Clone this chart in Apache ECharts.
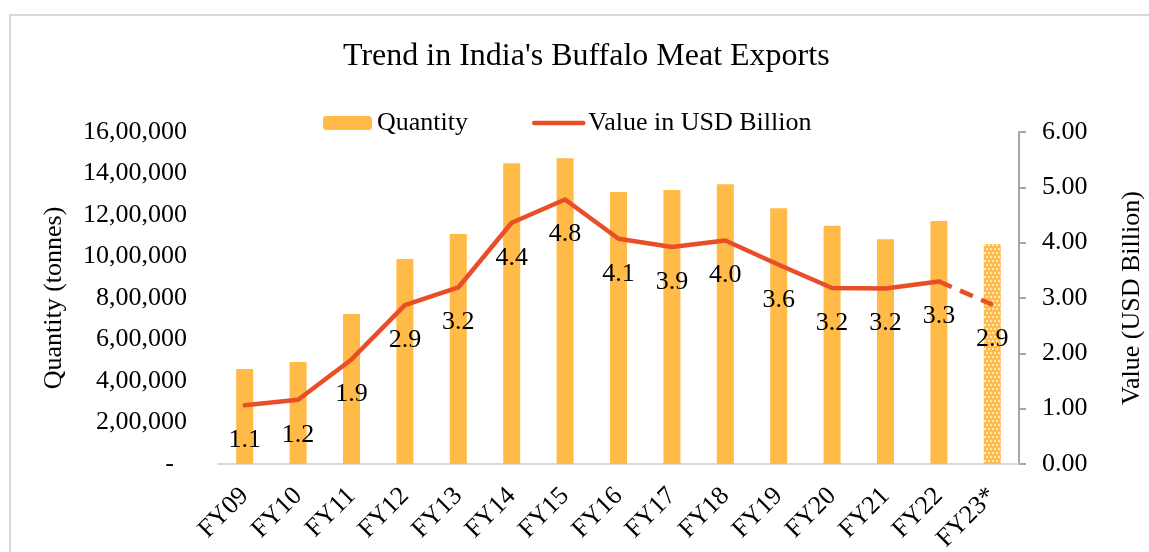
<!DOCTYPE html>
<html>
<head>
<meta charset="utf-8">
<script src="https://cdn.jsdelivr.net/npm/echarts@6/dist/echarts.min.js"></script>
<style>
html,body{margin:0;padding:0;background:#fff;}
#main{width:1149px;height:552px;}
</style>
</head>
<body>
<div id="main"></div>
<script>
// data
var categories = ['FY09','FY10','FY11','FY12','FY13','FY14','FY15','FY16','FY17','FY18','FY19','FY20','FY21','FY22','FY23*'];
var quantity = [458000, 492000, 723000, 988000, 1108000, 1449000, 1473000, 1311000, 1320000, 1348000, 1232000, 1148000, 1083000, 1171000, 1060000];
var valueUsd = [1.06, 1.16, 1.89, 2.87, 3.19, 4.36, 4.78, 4.07, 3.92, 4.04, 3.60, 3.18, 3.17, 3.30, 2.88];
var estimateFrom = 14; // FY23* is an estimate: patterned bar, dashed line

var FONT = 'Liberation Serif';
var LINE_COLOR = '#E84E27';

// 16,00,000 style
function indian(v){
	if(v === 0) return '-  ';
	var s = String(v);
	var last3 = s.slice(-3);
	var rest = s.slice(0, -3);
	if(rest) last3 = ',' + last3;
	return rest.replace(/\B(?=(\d{2})+(?!\d))/g, ',') + last3;
}

var barData = [];
var solidLine = [];
var dashLine = [];
for(var i = 0; i < categories.length; i++){
	if(i >= estimateFrom){
		barData.push({
			value: quantity[i],
			itemStyle: {
				decal: {
					symbol: 'circle',
					symbolSize: 0.9,
					color: '#ffffff',
					dashArrayX: [[2, 2], [0, 2, 2, 0]],
					dashArrayY: [2, 2]
				}
			}
		});
	} else {
		barData.push(quantity[i]);
	}
	solidLine.push(i < estimateFrom ? valueUsd[i] : null);
	if(i === estimateFrom - 1){
		dashLine.push({value: valueUsd[i], label: {show: false}});
	} else if(i >= estimateFrom){
		dashLine.push(valueUsd[i]);
	} else {
		dashLine.push(null);
	}
}

var lineLabel = {
	show: true,
	position: 'bottom',
	distance: 21,
	fontFamily: FONT,
	fontSize: 26,
	color: '#000',
	formatter: function(p){ return Number(p.value).toFixed(1); }
};

var myChart = echarts.init(document.getElementById('main'));
var option = {
	backgroundColor: '#fff',
	animation: false,
	graphic: [{
		type: 'rect',
		shape: {x: 10, y: 15, width: 1150, height: 600},
		style: {fill: 'none', stroke: '#d9d9d9', lineWidth: 2},
		silent: true,
		z: -1
	}],
	title: {
		text: "Trend in India's Buffalo Meat Exports",
		left: 338,
		top: 36,
		textStyle: {fontFamily: FONT, fontSize: 32, fontWeight: 'normal', color: '#000'}
	},
	legend: {
		data: [
			'Quantity',
			{
				name: 'Value in USD Billion',
				itemStyle: {color: 'rgba(0,0,0,0)', borderWidth: 0},
				lineStyle: {color: LINE_COLOR, width: 4.5, cap: 'round'}
			}
		],
		left: 318,
		top: 105,
		itemWidth: 49,
		itemHeight: 14,
		itemGap: 64,
		textStyle: {fontFamily: FONT, fontSize: 26, color: '#000'}
	},
	grid: {left: 218, right: 130, top: 132, bottom: 88, outerBoundsMode: 'none'},
	xAxis: {
		type: 'category',
		data: categories,
		axisLine: {lineStyle: {color: '#d9d9d9', width: 2}},
		axisTick: {show: false},
		axisLabel: {rotate: 45, margin: 28, fontFamily: FONT, fontSize: 26, color: '#000', interval: 0}
	},
	yAxis: [
		{
			type: 'value',
			min: 0,
			max: 1600000,
			interval: 200000,
			name: 'Quantity (tonnes)',
			nameLocation: 'middle',
			nameRotate: 90,
			nameGap: 151,
			nameTextStyle: {fontFamily: FONT, fontSize: 26, color: '#000'},
			axisLine: {show: false},
			axisTick: {show: false},
			splitLine: {show: false},
			axisLabel: {margin: 31, fontFamily: FONT, fontSize: 26, color: '#000', formatter: indian}
		},
		{
			type: 'value',
			position: 'right',
			min: 0,
			max: 6,
			interval: 1,
			name: 'Value (USD Billion)',
			nameLocation: 'middle',
			nameRotate: 90,
			nameGap: 100,
			nameTextStyle: {fontFamily: FONT, fontSize: 26, color: '#000'},
			axisLine: {show: true, lineStyle: {color: '#a6a6a6', width: 2}},
			axisTick: {show: true, length: 7, lineStyle: {color: '#a6a6a6', width: 2}},
			splitLine: {show: false},
			axisLabel: {margin: 23, fontFamily: FONT, fontSize: 26, color: '#000',
				formatter: function(v){ return v.toFixed(2); }}
		}
	],
	series: [
		{
			name: 'Quantity',
			type: 'bar',
			barWidth: 17,
			itemStyle: {color: '#FFBA47'},
			data: barData
		},
		{
			name: 'Value in USD Billion',
			type: 'line',
			yAxisIndex: 1,
			symbol: 'circle',
			symbolSize: 2,
			itemStyle: {color: LINE_COLOR},
			lineStyle: {color: LINE_COLOR, width: 4.5, cap: 'round', join: 'round'},
			label: lineLabel,
			data: solidLine,
			z: 3
		},
		{
			name: 'Value estimate',
			type: 'line',
			yAxisIndex: 1,
			symbol: 'circle',
			symbolSize: 2,
			itemStyle: {color: LINE_COLOR},
			lineStyle: {color: LINE_COLOR, width: 4.5, type: [14, 9]},
			label: lineLabel,
			data: dashLine,
			z: 3
		}
	]
};
myChart.setOption(option);
</script>
</body>
</html>
